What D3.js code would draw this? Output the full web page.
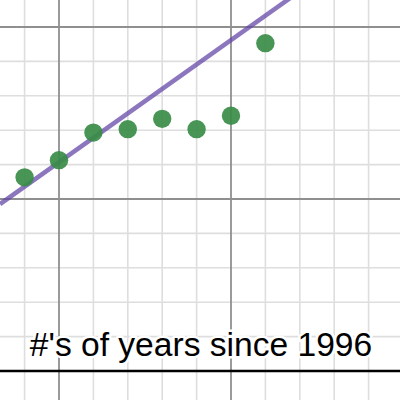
<!DOCTYPE html>
<html>
<head>
<meta charset="utf-8">
<script src="https://cdn.jsdelivr.net/npm/d3@7"></script>
<style>
  html, body { margin: 0; padding: 0; background: #fff; }
  svg { display: block; }
</style>
</head>
<body>
<svg id="chart" width="400" height="400"></svg>
<script>
const width = 400;
const height = 400;

// years since 1996 and the measured values
const years = [4, 5, 6, 7, 8, 9, 10, 11];
const values = [5.63, 6.13, 6.93, 7.03, 7.33, 7.03, 7.42, 9.53];

// hand-fitted trend line y = intercept + slope * x
const lineSlope = 0.71;
const lineIntercept = 2.52;

// visible window (graph units)
const xDomain = [3.285, 14.913];
const yDomain = [-0.843, 10.785];

const axisLabel = "#'s of years since 1996";

const svg = d3.select("#chart");

const x = d3.scaleLinear().domain(xDomain).range([0, width]);
const y = d3.scaleLinear().domain(yDomain).range([height, 0]);

const xTicks = d3.range(Math.ceil(xDomain[0]), Math.floor(xDomain[1]) + 1);
const yTicks = d3.range(Math.ceil(yDomain[0]), Math.floor(yDomain[1]) + 1);

const grid = svg.append("g");

// minor grid
grid.selectAll("line.vminor")
  .data(xTicks.filter(d => d % 5 !== 0))
  .enter().append("line")
  .attr("x1", d => x(d)).attr("x2", d => x(d))
  .attr("y1", 0).attr("y2", height)
  .attr("stroke", "#dedede").attr("stroke-width", 1.6);

grid.selectAll("line.hminor")
  .data(yTicks.filter(d => d % 5 !== 0))
  .enter().append("line")
  .attr("y1", d => y(d)).attr("y2", d => y(d))
  .attr("x1", 0).attr("x2", width)
  .attr("stroke", "#dedede").attr("stroke-width", 1.6);

// major grid
grid.selectAll("line.vmajor")
  .data(xTicks.filter(d => d % 5 === 0 && d !== 0))
  .enter().append("line")
  .attr("x1", d => x(d)).attr("x2", d => x(d))
  .attr("y1", 0).attr("y2", height)
  .attr("stroke", "#8f8f8f").attr("stroke-width", 1.8);

grid.selectAll("line.hmajor")
  .data(yTicks.filter(d => d % 5 === 0 && d !== 0))
  .enter().append("line")
  .attr("y1", d => y(d)).attr("y2", d => y(d))
  .attr("x1", 0).attr("x2", width)
  .attr("stroke", "#8f8f8f").attr("stroke-width", 1.8);

// x axis (y = 0)
svg.append("line")
  .attr("x1", 0).attr("x2", width)
  .attr("y1", y(0)).attr("y2", y(0))
  .attr("stroke", "#000").attr("stroke-width", 2.6);

// trend line across the window
svg.append("line")
  .attr("x1", x(xDomain[0])).attr("y1", y(lineIntercept + lineSlope * xDomain[0]))
  .attr("x2", x(xDomain[1])).attr("y2", y(lineIntercept + lineSlope * xDomain[1]))
  .attr("stroke", "#6042a6").attr("stroke-opacity", 0.72)
  .attr("stroke-width", 4.5);

// data points
svg.selectAll("circle.pt")
  .data(years.map((d, i) => ({ x: d, y: values[i] })))
  .enter().append("circle")
  .attr("class", "pt")
  .attr("cx", d => x(d.x))
  .attr("cy", d => y(d.y))
  .attr("r", 9.2)
  .attr("fill", "#388c46")
  .attr("fill-opacity", 0.92);

// label with white halo
svg.append("text")
  .attr("x", 201)
  .attr("y", 356)
  .attr("text-anchor", "middle")
  .style("font-family", "'Liberation Sans', Arial, sans-serif")
  .style("font-size", "33.6px")
  .attr("fill", "#000")
  .attr("stroke", "#fff")
  .attr("stroke-width", 5)
  .attr("stroke-linejoin", "round")
  .attr("paint-order", "stroke")
  .text(axisLabel);
</script>
</body>
</html>
